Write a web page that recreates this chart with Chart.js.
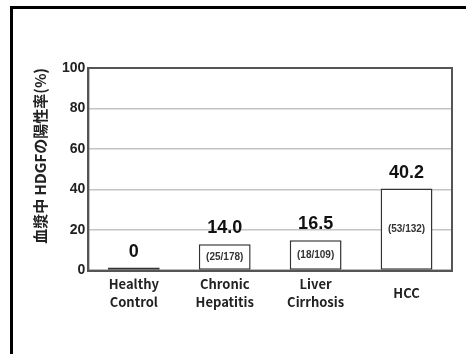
<!DOCTYPE html>
<html lang="ja">
<head>
  <meta charset="UTF-8">
  <title>HDGF positive rate</title>
  <script src="https://cdn.jsdelivr.net/npm/chart.js"></script>
  <style>
    body { margin: 0; background: #fff; width: 466px; height: 354px; overflow: hidden; position: relative; }
    .frame { position: absolute; left: 10px; top: 6px; width: 480px; height: 370px; border: 3px solid #000; }
    #hdgfChart { position: absolute; left: 0; top: 0; }
  </style>
</head>
<body>
  <div class="frame"></div>
  <canvas id="hdgfChart" width="466" height="354"></canvas>

  <script>
    // categories and values
    const groups = [['Healthy', 'Control'], ['Chronic', 'Hepatitis'], ['Liver', 'Cirrhosis'], 'HCC'];
    const positiveRate = [0, 13, 15, 40.5];
    const rateLabels = ['0', '14.0', '16.5', '40.2'];
    const countLabels = ['', '(25/178)', '(18/109)', '(53/132)'];
    const yTicks = [0, 20, 40, 60, 80, 100];

    // plot box border + text on/above the bars
    const barText = {
      id: 'barText',
      afterDatasetsDraw(chart) {
        const ctx = chart.ctx;
        const a = chart.chartArea;
        ctx.save();
        ctx.strokeStyle = '#555';
        ctx.lineWidth = 2;
        ctx.strokeRect(a.left, a.top, a.right - a.left, a.bottom - a.top);

        const bars = chart.getDatasetMeta(0).data;
        ctx.textAlign = 'center';
        bars.forEach((bar, i) => {
          ctx.fillStyle = '#111';
          ctx.font = 'bold 18px "Liberation Sans", Arial, sans-serif';
          ctx.textBaseline = 'bottom';
          ctx.fillText(rateLabels[i], bar.x, bar.y - 7);
          if (countLabels[i]) {
            ctx.font = 'bold 10px "Liberation Sans", Arial, sans-serif';
            ctx.fillStyle = '#333';
            ctx.textBaseline = 'middle';
            ctx.fillText(countLabels[i], bar.x, (bar.y + bar.base) / 2);
          }
        });
        ctx.restore();
      }
    };

    new Chart(document.getElementById('hdgfChart'), {
      type: 'bar',
      data: {
        labels: groups,
        datasets: [{
          data: positiveRate,
          backgroundColor: ['#222', '#fff', '#fff', '#fff'],
          borderColor: '#333',
          borderWidth: 1.5,
          borderSkipped: false,
          minBarLength: 3,
          barPercentage: 0.57,
          categoryPercentage: 1
        }]
      },
      options: {
        responsive: false,
        animation: false,
        devicePixelRatio: 1,
        layout: { padding: { left: 27, right: 14, top: 68, bottom: 29 } },
        plugins: { legend: { display: false }, tooltip: { enabled: false } },
        scales: {
          x: {
            grid: { display: false },
            border: { display: true, color: '#555', width: 2 },
            ticks: {
              color: '#222',
              padding: 5,
              crossAlign: 'center',
              font: { family: '"Noto Sans CJK JP", "Noto Sans", sans-serif', size: 13, weight: 'bold', lineHeight: 1.4 }
            }
          },
          y: {
            min: 0,
            max: 100,
            afterBuildTicks: (scale) => { scale.ticks = yTicks.map(v => ({ value: v })); },
            grid: { color: '#c4c4c4', lineWidth: 1.5, tickLength: 0 },
            border: { display: true, color: '#555', width: 2 },
            ticks: {
              color: '#222',
              padding: 3,
              font: { family: '"Liberation Sans", Arial, sans-serif', size: 14, weight: 'bold' }
            },
            title: {
              display: true,
              text: '血漿中 HDGFの陽性率(%)',
              align: 'end',
              color: '#222',
              padding: { top: 4, bottom: 10 },
              font: { family: '"Noto Sans CJK JP", sans-serif', size: 15, weight: 'bold' }
            }
          }
        }
      },
      plugins: [barText]
    });
  </script>
</body>
</html>
